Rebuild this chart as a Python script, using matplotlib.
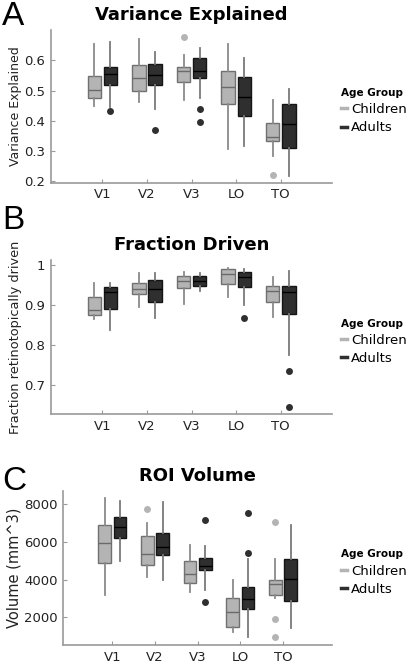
import numpy as np
import matplotlib
matplotlib.use("Agg")
import matplotlib.pyplot as plt
from matplotlib.lines import Line2D

# regions of interest
rois = ['V1', 'V2', 'V3', 'LO', 'TO']

# A - variance explained (box stats)
ve_child_lo  = [0.448, 0.462, 0.467, 0.307, 0.284]
ve_child_q1  = [0.476, 0.500, 0.527, 0.456, 0.334]
ve_child_med = [0.502, 0.540, 0.563, 0.513, 0.347]
ve_child_q3  = [0.549, 0.584, 0.578, 0.565, 0.393]
ve_child_hi  = [0.654, 0.671, 0.616, 0.654, 0.467]
ve_child_out = [[], [], [0.676], [], [0.222]]

ve_adult_lo  = [0.445, 0.440, 0.474, 0.318, 0.216]
ve_adult_q1  = [0.519, 0.519, 0.543, 0.415, 0.309]
ve_adult_med = [0.556, 0.552, 0.563, 0.478, 0.389]
ve_adult_q3  = [0.578, 0.589, 0.609, 0.546, 0.455]
ve_adult_hi  = [0.661, 0.628, 0.639, 0.607, 0.505]
ve_adult_out = [[0.431], [0.370], [0.438, 0.397], [], []]

# B - fraction retinotopically driven
fd_child_lo  = [0.864, 0.896, 0.903, 0.919, 0.869]
fd_child_q1  = [0.875, 0.928, 0.943, 0.953, 0.908]
fd_child_med = [0.888, 0.939, 0.961, 0.978, 0.936]
fd_child_q3  = [0.921, 0.955, 0.972, 0.990, 0.948]
fd_child_hi  = [0.956, 0.981, 0.983, 0.993, 0.971]
fd_child_out = [[], [], [], [], []]

fd_adult_lo  = [0.838, 0.868, 0.936, 0.900, 0.776]
fd_adult_q1  = [0.890, 0.908, 0.948, 0.945, 0.878]
fd_adult_med = [0.932, 0.940, 0.961, 0.971, 0.933]
fd_adult_q3  = [0.946, 0.963, 0.973, 0.983, 0.948]
fd_adult_hi  = [0.954, 0.981, 0.980, 0.989, 0.986]
fd_adult_out = [[], [], [], [0.867], [0.735, 0.644]]

# C - ROI volume
vol_child_lo  = [3200, 4135, 3340, 1258, 3023]
vol_child_q1  = [4876, 4752, 3817, 1522, 3164]
vol_child_med = [5935, 5370, 4311, 2281, 3782]
vol_child_q3  = [6870, 6288, 4964, 3023, 3994]
vol_child_hi  = [8318, 6994, 5811, 3958, 5105]
vol_child_out = [[], [7700], [], [], [7012, 1911, 958]]

vol_adult_lo  = [4964, 3958, 3446, 958, 1470]
vol_adult_q1  = [6164, 5300, 4505, 2458, 2882]
vol_adult_med = [6782, 5723, 4735, 2987, 4047]
vol_adult_q3  = [7294, 6447, 5123, 3588, 5105]
vol_adult_hi  = [8141, 8088, 5758, 5105, 6853]
vol_adult_out = [[], [], [7135, 2793], [7523, 5405], []]

child_face = '#b4b4b4'
child_edge = '#707070'
adult_face = '#2f2f2f'
adult_edge = '#151515'
axis_col = '#9a9a9a'


def make_stats(lo, q1, med, q3, hi, out):
    return [dict(whislo=lo[i], q1=q1[i], med=med[i], q3=q3[i], whishi=hi[i],
                 fliers=out[i]) for i in range(len(med))]


def draw_group(ax, stats, pos, face, edge, medcol, whiskcol):
    ax.bxp(stats, positions=pos, widths=0.3, patch_artist=True, showcaps=False,
           boxprops=dict(facecolor=face, edgecolor=edge, linewidth=1.0),
           medianprops=dict(color=medcol, linewidth=1.0),
           whiskerprops=dict(color=whiskcol, linewidth=1.3),
           flierprops=dict(marker='o', markerfacecolor=face, markeredgecolor='none',
                           markersize=5))


def panel(ax, child, adult, title, ylabel, ylabel_size):
    x = np.arange(1, len(rois) + 1)
    draw_group(ax, child, x - 0.18, child_face, child_edge, '#6a6a6a', '#8a8a8a')
    draw_group(ax, adult, x + 0.18, adult_face, adult_edge, '#000000', '#7a7a7a')
    ax.set_xlim(-0.15, 6.15)
    ax.set_xticks(x)
    ax.set_xticklabels(rois)
    ax.set_title(title, fontsize=13, fontweight='bold', pad=7)
    ax.set_ylabel(ylabel, fontsize=ylabel_size, color='#222222', labelpad=2)
    for s in ['top', 'right']:
        ax.spines[s].set_visible(False)
    for s in ['left', 'bottom']:
        ax.spines[s].set_color(axis_col)
        ax.spines[s].set_linewidth(1.2)
    ax.tick_params(direction='in', length=3, color=axis_col, labelsize=9.5,
                   labelcolor='#222222', pad=4)
    handles = [Line2D([], [], color=child_face, lw=2.5),
               Line2D([], [], color=adult_face, lw=2.5)]
    ax.legend(handles, ['Children', 'Adults'], title='Age Group',
              loc='center left', bbox_to_anchor=(1.0, 0.47), frameon=False,
              handlelength=0.45, handletextpad=0.3, fontsize=9.5,
              labelspacing=0.4, title_fontproperties=dict(weight='bold', size=7.5),
              alignment='left', borderaxespad=0.3)
    return ax


fig = plt.figure(figsize=(4.08, 6.67), dpi=100)

axA = fig.add_axes([0.125, 0.726, 0.689, 0.229])
panel(axA, make_stats(ve_child_lo, ve_child_q1, ve_child_med, ve_child_q3, ve_child_hi, ve_child_out),
      make_stats(ve_adult_lo, ve_adult_q1, ve_adult_med, ve_adult_q3, ve_adult_hi, ve_adult_out),
      'Variance Explained', 'Variance Explained', 9)
axA.set_ylim(0.195, 0.70)
axA.set_yticks([0.2, 0.3, 0.4, 0.5, 0.6])

axB = fig.add_axes([0.125, 0.379, 0.689, 0.231])
panel(axB, make_stats(fd_child_lo, fd_child_q1, fd_child_med, fd_child_q3, fd_child_hi, fd_child_out),
      make_stats(fd_adult_lo, fd_adult_q1, fd_adult_med, fd_adult_q3, fd_adult_hi, fd_adult_out),
      'Fraction Driven', 'Fraction retinotopically driven', 9.3)
axB.set_ylim(0.627, 1.012)
axB.set_yticks([0.7, 0.8, 0.9, 1.0])
axB.set_yticklabels(['0.7', '0.8', '0.9', '1'])

axC = fig.add_axes([0.155, 0.033, 0.659, 0.231])
panel(axC, make_stats(vol_child_lo, vol_child_q1, vol_child_med, vol_child_q3, vol_child_hi, vol_child_out),
      make_stats(vol_adult_lo, vol_adult_q1, vol_adult_med, vol_adult_q3, vol_adult_hi, vol_adult_out),
      'ROI Volume', 'Volume (mm^3)', 10.5)
axC.set_ylim(550, 8670)
axC.set_yticks([2000, 4000, 6000, 8000])

# panel letters
for lbl, yy in [('A', 0.998), ('B', 0.692), ('C', 0.302)]:
    fig.text(0.005, yy, lbl, fontsize=24, family='Liberation Sans', va='top', ha='left')

fig.savefig('out.png', dpi=100)
